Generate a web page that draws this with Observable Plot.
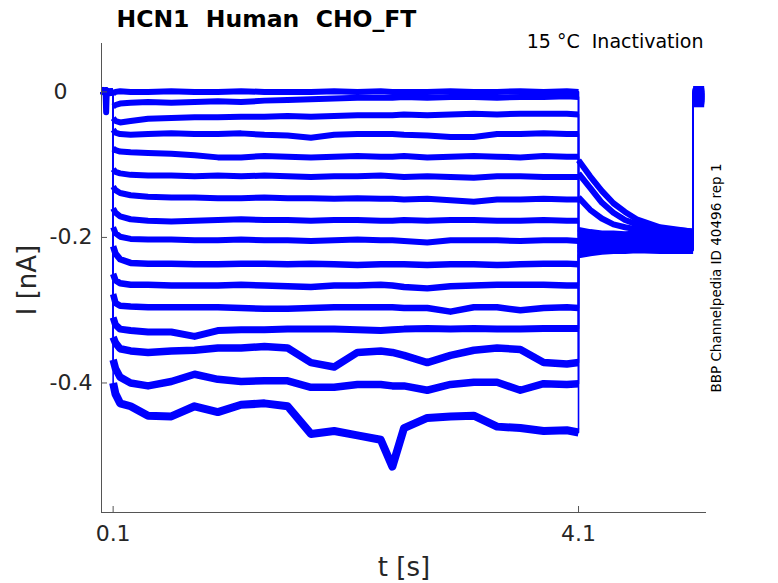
<!DOCTYPE html>
<html><head><meta charset="utf-8">
<script src="https://cdn.jsdelivr.net/npm/d3@7"></script>
<script src="https://cdn.jsdelivr.net/npm/@observablehq/plot@0.6"></script>
<style>body{margin:0;background:#fff}</style>
</head><body><div id="chart"></div>
<script>
// ---- text ----
const titleText = "HCN1  Human  CHO_FT";
const subtitleText = "15 °C  Inactivation";
const xLabelText = "t [s]";
const yLabelText = "I [nA]";
const idText = "BBP Channelpedia ID 40496 rep 1";

// ---- ticks ----
const xTicks = [0.1, 4.1];
const xTickLabels = ["0.1", "4.1"];
const yTicks = [0, -0.2, -0.4];
const yTickLabels = ["0\u2007\u2002", "-0.2", "-0.4"];
const xDomain = [0, 5.2];
const yDomain = [-0.578, 0.0665];

// ---- time grids (s) ----
const preT = [0, 0.035, 0.04, 0.045, 0.1];
const stepT = [0.1, 0.12, 0.16, 0.25, 0.4, 0.6, 0.8, 1.0, 1.2, 1.4, 1.6, 1.8, 2.0, 2.2, 2.4, 2.5, 2.6, 2.8, 3.0, 3.2, 3.4, 3.6, 3.8, 4.0, 4.1];
const postT = [4.1, 4.2, 4.3, 4.4, 4.5, 4.6, 4.8, 5.085];
const endT = [5.085, 5.12, 5.18];

// ---- currents (nA) ----
const preBase  = [0.002, 0.000, 0.001, -0.001, 0.000];
const preSpike = [0.002, 0.000, -0.028, 0.000, 0.000];

const step00 = [-0.002, 0.000, 0.001, 0.000, 0.000, 0.001, 0.000, 0.000, 0.001, 0.000, 0.000, 0.000, 0.001, 0.000, 0.001, 0.000, 0.000, 0.000, 0.001, 0.000, 0.000, 0.001, 0.000, 0.001, 0.000];
const step01 = [-0.020, -0.018, -0.016, -0.015, -0.014, -0.015, -0.014, -0.013, -0.014, -0.012, -0.011, -0.010, -0.009, -0.008, -0.008, -0.008, -0.007, -0.008, -0.007, -0.007, -0.008, -0.007, -0.007, -0.006, -0.007];
const step02 = [-0.036, -0.040, -0.042, -0.040, -0.037, -0.036, -0.035, -0.035, -0.034, -0.034, -0.033, -0.034, -0.033, -0.032, -0.032, -0.032, -0.031, -0.032, -0.031, -0.030, -0.031, -0.030, -0.030, -0.030, -0.031];
const step03 = [-0.052, -0.056, -0.058, -0.059, -0.058, -0.057, -0.058, -0.058, -0.057, -0.059, -0.060, -0.063, -0.059, -0.058, -0.058, -0.058, -0.059, -0.060, -0.062, -0.062, -0.058, -0.058, -0.057, -0.058, -0.058];
const step04 = [-0.078, -0.080, -0.082, -0.083, -0.084, -0.085, -0.087, -0.090, -0.090, -0.088, -0.089, -0.090, -0.089, -0.088, -0.089, -0.089, -0.088, -0.090, -0.089, -0.088, -0.089, -0.090, -0.088, -0.089, -0.089];
const step05 = [-0.106, -0.110, -0.112, -0.114, -0.115, -0.115, -0.116, -0.115, -0.116, -0.115, -0.116, -0.117, -0.116, -0.116, -0.115, -0.116, -0.117, -0.116, -0.117, -0.118, -0.116, -0.116, -0.117, -0.117, -0.117];
const step06 = [-0.130, -0.135, -0.139, -0.142, -0.144, -0.145, -0.145, -0.146, -0.146, -0.145, -0.146, -0.146, -0.147, -0.146, -0.147, -0.147, -0.148, -0.147, -0.149, -0.151, -0.148, -0.148, -0.147, -0.148, -0.148];
const step07 = [-0.160, -0.166, -0.171, -0.175, -0.177, -0.178, -0.177, -0.176, -0.175, -0.176, -0.176, -0.177, -0.176, -0.176, -0.177, -0.177, -0.176, -0.177, -0.176, -0.176, -0.177, -0.177, -0.176, -0.177, -0.177];
const step08 = [-0.186, -0.194, -0.199, -0.202, -0.203, -0.203, -0.204, -0.204, -0.203, -0.204, -0.204, -0.205, -0.204, -0.203, -0.204, -0.204, -0.205, -0.207, -0.204, -0.204, -0.204, -0.205, -0.204, -0.204, -0.205];
const step09 = [-0.212, -0.222, -0.230, -0.235, -0.236, -0.236, -0.237, -0.237, -0.236, -0.236, -0.237, -0.236, -0.237, -0.238, -0.237, -0.237, -0.237, -0.238, -0.237, -0.237, -0.238, -0.237, -0.236, -0.236, -0.237];
const step10 = [-0.250, -0.259, -0.263, -0.265, -0.265, -0.266, -0.266, -0.266, -0.265, -0.266, -0.267, -0.268, -0.266, -0.266, -0.265, -0.266, -0.268, -0.270, -0.267, -0.266, -0.265, -0.265, -0.265, -0.266, -0.266];
const step11 = [-0.278, -0.290, -0.294, -0.295, -0.296, -0.296, -0.296, -0.296, -0.297, -0.298, -0.298, -0.297, -0.296, -0.296, -0.296, -0.296, -0.297, -0.297, -0.302, -0.296, -0.296, -0.300, -0.297, -0.296, -0.297];
const step12 = [-0.310, -0.320, -0.326, -0.328, -0.330, -0.330, -0.336, -0.328, -0.327, -0.327, -0.326, -0.326, -0.326, -0.327, -0.328, -0.327, -0.326, -0.325, -0.326, -0.325, -0.326, -0.326, -0.325, -0.325, -0.325];
const step13 = [-0.337, -0.345, -0.353, -0.356, -0.358, -0.356, -0.355, -0.352, -0.352, -0.350, -0.352, -0.372, -0.378, -0.358, -0.356, -0.358, -0.362, -0.372, -0.362, -0.355, -0.352, -0.354, -0.372, -0.374, -0.372];
const step14 = [-0.368, -0.380, -0.392, -0.400, -0.404, -0.398, -0.388, -0.395, -0.398, -0.397, -0.397, -0.406, -0.406, -0.402, -0.402, -0.404, -0.404, -0.410, -0.402, -0.399, -0.399, -0.410, -0.401, -0.402, -0.401];
const step15 = [-0.400, -0.415, -0.428, -0.432, -0.445, -0.446, -0.432, -0.440, -0.430, -0.428, -0.432, -0.470, -0.466, -0.472, -0.478, -0.515, -0.462, -0.448, -0.446, -0.445, -0.460, -0.462, -0.466, -0.465, -0.468];

const post00 = [-0.094, -0.116, -0.136, -0.153, -0.165, -0.175, -0.186, -0.192];
const post01 = [-0.112, -0.132, -0.152, -0.166, -0.176, -0.182, -0.188, -0.192];
const post02 = [-0.145, -0.162, -0.174, -0.182, -0.186, -0.189, -0.191, -0.193];
const post03 = [-0.192, -0.196, -0.198, -0.197, -0.199, -0.198, -0.198, -0.199];
const post04 = [-0.208, -0.206, -0.205, -0.206, -0.204, -0.205, -0.205, -0.204];
const post05 = [-0.215, -0.213, -0.212, -0.212, -0.211, -0.212, -0.211, -0.212];
const post06 = [-0.198, -0.200, -0.201, -0.200, -0.201, -0.200, -0.201, -0.200];
const post07 = [-0.212, -0.210, -0.209, -0.208, -0.209, -0.208, -0.208, -0.209];
const post08 = [-0.220, -0.218, -0.216, -0.215, -0.216, -0.215, -0.215, -0.216];
const post09 = [-0.190, -0.193, -0.195, -0.195, -0.196, -0.195, -0.196, -0.196];
const post10 = [-0.214, -0.212, -0.211, -0.210, -0.211, -0.210, -0.210, -0.211];
const post11 = [-0.205, -0.204, -0.203, -0.202, -0.203, -0.202, -0.203, -0.202];
const post12 = [-0.224, -0.221, -0.219, -0.218, -0.218, -0.217, -0.218, -0.218];
const post13 = [-0.210, -0.208, -0.207, -0.206, -0.207, -0.206, -0.206, -0.207];
const post14 = [-0.218, -0.215, -0.214, -0.213, -0.213, -0.213, -0.212, -0.213];
const post15 = [-0.203, -0.201, -0.200, -0.200, -0.201, -0.200, -0.200, -0.201];

const endLevels = [0.004, -0.002, -0.006, -0.010, 0.002, -0.004, -0.012, -0.008, 0.000, -0.014, -0.006, -0.002, -0.010, -0.016, -0.004, -0.008];

// ---- styles ----
const traceColor = "#0000ff";
const axisColor = "#555555";
const textColor = "#262626";
const bandWidths = [6, 6, 6, 6, 6, 6, 6, 6, 6, 6.5, 6.5, 6.5, 7, 7.5, 7.5, 8];

const steps = [step00, step01, step02, step03, step04, step05, step06, step07, step08, step09, step10, step11, step12, step13, step14, step15];
const posts = [post00, post01, post02, post03, post04, post05, post06, post07, post08, post09, post10, post11, post12, post13, post14, post15];

const rows = [];
steps.forEach((s, k) => {
  const pre = k === 1 ? preSpike : preBase;
  preT.forEach((t, j) => rows.push({trace: k, seg: 0, t, i: pre[j]}));
  stepT.forEach((t, j) => rows.push({trace: k, seg: 1, t, i: s[j]}));
  postT.forEach((t, j) => rows.push({trace: k, seg: 2, t, i: posts[k][j]}));
  endT.forEach((t) => rows.push({trace: k, seg: 3, t, i: endLevels[k]}));
});

const bandMarks = [...new Set(bandWidths)].map(w =>
  Plot.line(rows.filter(d => bandWidths[d.trace] === w), {
    x: "t", y: "i", z: d => d.trace * 10 + d.seg,
    stroke: traceColor, strokeWidth: w, strokeLinejoin: "round", strokeLinecap: "butt"
  })
);

const plot = Plot.plot({
  width: 778, height: 583,
  marginLeft: 101, marginRight: 72, marginTop: 43, marginBottom: 71,
  x: {domain: xDomain},
  y: {domain: yDomain},
  style: {fontFamily: "DejaVu Sans", background: "white", color: textColor},
  marks: [
    Plot.line(rows, {x: "t", y: "i", z: "trace", stroke: traceColor, strokeWidth: 1.6, strokeLinecap: "butt"}),
    ...bandMarks,
    Plot.ruleX([xDomain[0]], {stroke: axisColor, strokeWidth: 1}),
    Plot.ruleY([yDomain[0]], {stroke: axisColor, strokeWidth: 1}),
    Plot.tickX(xTicks, {x: d => d, stroke: axisColor, insetTop: 463}),
    Plot.tickY(yTicks, {y: d => d, stroke: axisColor, insetRight: 599}),
    Plot.axisX({ticks: xTicks, tickSize: 0, tickPadding: 13, fontSize: 22, fill: textColor,
      tickFormat: d => xTickLabels[xTicks.indexOf(d)], label: null}),
    Plot.axisY({ticks: yTicks, tickSize: 0, tickPadding: 9, fontSize: 22, fill: textColor,
      tickFormat: d => yTickLabels[yTicks.indexOf(d)], label: null}),
    Plot.text([titleText], {text: d => d, frameAnchor: "top-left", dx: 15, dy: -24, textAnchor: "start",
      lineAnchor: "middle", fontSize: 23.5, fontWeight: "bold", fill: "#000"}),
    Plot.text([subtitleText], {text: d => d, frameAnchor: "top-right", dx: -3, dy: -2, textAnchor: "end",
      lineAnchor: "middle", fontSize: 19, fill: "#000"}),
    Plot.text([xLabelText], {text: d => d, frameAnchor: "bottom", dy: 55, textAnchor: "middle", lineAnchor: "middle", fontSize: 26, fill: textColor}),
    Plot.text([yLabelText], {text: d => d, frameAnchor: "left", dx: -73.5, dy: 2, rotate: -90, textAnchor: "middle", lineAnchor: "middle", fontSize: 26, fill: textColor}),
    Plot.text([idText], {text: d => d, frameAnchor: "right", dx: 10, rotate: -90, textAnchor: "middle", lineAnchor: "middle", fontSize: 13.5, fill: "#000"})
  ]
});
document.getElementById("chart").appendChild(plot);
</script>
</body></html>
